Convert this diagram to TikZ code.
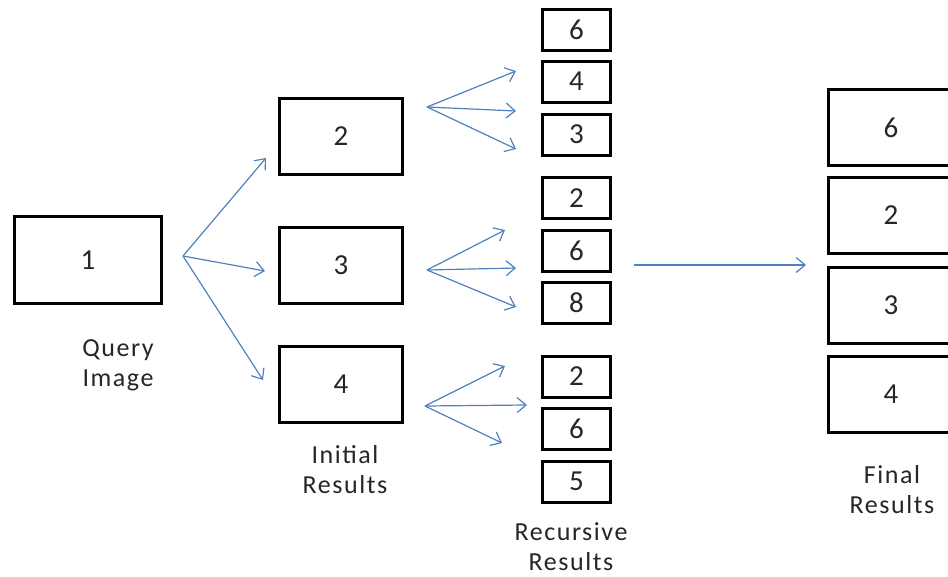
\documentclass[tikz,border=0pt]{standalone}
\usepackage{fontspec}
\setmainfont{Carlito}
\newfontfamily\capfont[LetterSpace=6]{Carlito}
\usetikzlibrary{arrows.meta}
\definecolor{arrowblue}{HTML}{4F81BD}
\definecolor{labelgray}{HTML}{262626}
\begin{document}
\begin{tikzpicture}[x=1pt,y=-1pt,
  box/.style={draw=black,line width=3pt,inner sep=0pt,text=labelgray,
    font=\fontsize{29}{30}\selectfont},
  querybox/.style={box,minimum width=147pt,minimum height=87pt},
  midbox/.style={box,minimum width=123pt,minimum height=76pt},
  smallbox/.style={box,minimum width=68pt,minimum height=41pt},
  finalbox/.style={box,minimum width=126pt,minimum height=76pt},
  caption/.style={align=center,text=labelgray,inner sep=0pt,
    font=\capfont\fontsize{26}{30}\selectfont},
  link/.style={draw=arrowblue,line width=1.2pt,
    -{Straight Barb[length=9pt,width=15pt,line width=1.2pt]}}
]
\useasboundingbox (0,0) rectangle (948,576);

% query image
\node[querybox] (q) at (88,260) {1};
\node[caption] (qcap) at (118,365) {Query\\Image};

% initial results
\node[midbox] (i2) at (341,136.5) {2};
\node[midbox] (i3) at (341,265.5) {3};
\node[midbox] (i4) at (341,384.5) {4};
\node[caption] (icap) at (345,470) {Initial\\Results};

% recursive results
\node[smallbox] (r1) at (576.5,29.5) {6};
\node[smallbox] (r2) at (576.5,81.5) {4};
\node[smallbox] (r3) at (576.5,134.5) {3};
\node[smallbox] (r4) at (576.5,198) {2};
\node[smallbox] (r5) at (576.5,250.5) {6};
\node[smallbox] (r6) at (576.5,303) {8};
\node[smallbox] (r7) at (576.5,376.5) {2};
\node[smallbox] (r8) at (576.5,428.5) {6};
\node[smallbox] (r9) at (576.5,481.5) {5};
\node[caption] (rcap) at (571,547) {Recursive\\Results};

% final results
\node[finalbox] (f1) at (891,127.5) {6};
\node[finalbox] (f2) at (891,215.5) {2};
\node[finalbox] (f3) at (891,305) {3};
\node[finalbox] (f4) at (891,394) {4};
\node[caption] (fcap) at (892,490) {Final\\Results};

% fan-out points and arrow tips
\coordinate (qo) at (183,256);
\coordinate (qa) at (266,158);
\coordinate (qb) at (265,271);
\coordinate (qc) at (263,380);

\coordinate (ao) at (427,107);
\coordinate (aa) at (516,71);
\coordinate (ab) at (516,111);
\coordinate (ac) at (516,149);

\coordinate (bo) at (427,270);
\coordinate (ba) at (505,230);
\coordinate (bb) at (516,268);
\coordinate (bc) at (516,307);

\coordinate (co) at (425,406);
\coordinate (ca) at (505,366);
\coordinate (cb) at (527,405);
\coordinate (cc) at (502,443);

\coordinate (mo) at (634,265);
\coordinate (me) at (806,265);

\draw[link] (qo) -- (qa);
\draw[link] (qo) -- (qb);
\draw[link] (qo) -- (qc);
\draw[link] (ao) -- (aa);
\draw[link] (ao) -- (ab);
\draw[link] (ao) -- (ac);
\draw[link] (bo) -- (ba);
\draw[link] (bo) -- (bb);
\draw[link] (bo) -- (bc);
\draw[link] (co) -- (ca);
\draw[link] (co) -- (cb);
\draw[link] (co) -- (cc);
\draw[link] (mo) -- (me);
\end{tikzpicture}
\end{document}
